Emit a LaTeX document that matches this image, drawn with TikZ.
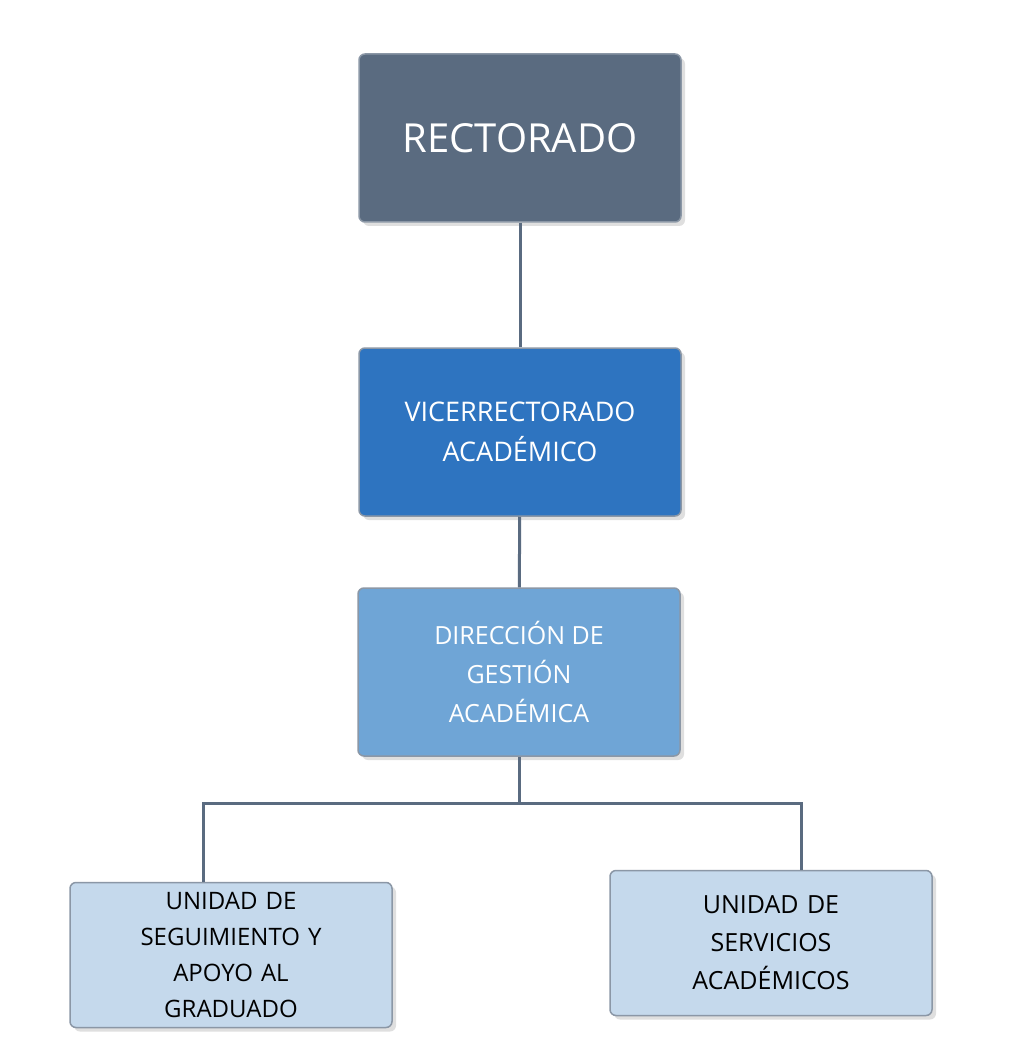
\documentclass[tikz,border=0pt]{standalone}
\usepackage{fontspec}
\setmainfont{Open Sans}
\usetikzlibrary{shadows}
\definecolor{rectfill}{HTML}{5A6B80}
\definecolor{vicefill}{HTML}{2E74C0}
\definecolor{dirfill}{HTML}{6FA5D6}
\definecolor{unitfill}{HTML}{C5D9EC}
\definecolor{linkcol}{HTML}{5A6B80}
\tikzset{
  box/.style={draw=linkcol!70, line width=1.5pt, rounded corners=6pt, align=center,
    minimum width=322pt, minimum height=168pt, inner sep=0pt,
    drop shadow={shadow xshift=4pt, shadow yshift=-4pt, opacity=0.25}},
  unit/.style={box, fill=unitfill, minimum height=145pt, text=black, font=\fontsize{24}{36}\selectfont},
  link/.style={draw=linkcol, line width=3pt}
}
\begin{document}
\begin{tikzpicture}[x=1pt, y=-1pt]
        \useasboundingbox[fill=white] (0,0) rectangle (1008,1056);

        % Boxes
        \node[box, fill=rectfill, text=white, font=\fontsize{40}{48}\selectfont] (rect) at (520,138) {RECTORADO};
        \node[box, fill=vicefill, text=white, font=\fontsize{27}{40}\selectfont] (vice) at (520,432) {VICERRECTORADO\\ACADÉMICO};
        \node[box, fill=dirfill, text=white, font=\fontsize{25}{39}\selectfont] (dir) at (519,672) {DIRECCIÓN DE\\GESTIÓN\\ACADÉMICA};
        \node[unit, text width=300pt] (seg) at (231,955) {UNIDAD DE\\SEGUIMIENTO Y\\APOYO AL\\GRADUADO};
        \node[unit, text width=300pt, font=\fontsize{25}{38}\selectfont] (serv) at (771,943) {UNIDAD DE\\SERVICIOS\\ACADÉMICOS};

        % Connectors
        \coordinate (busL) at (203,803);
        \coordinate (busR) at (801,803);
        \draw[link] (rect) -- (vice);
        \draw[link] (vice) -- (dir);
        \draw[link] (dir.south) -- (dir.south |- busL);
        \draw[link] (seg.north -| busL) -- (busL) -- (busR) -- (serv.north -| busR);
\end{tikzpicture}
\end{document}
